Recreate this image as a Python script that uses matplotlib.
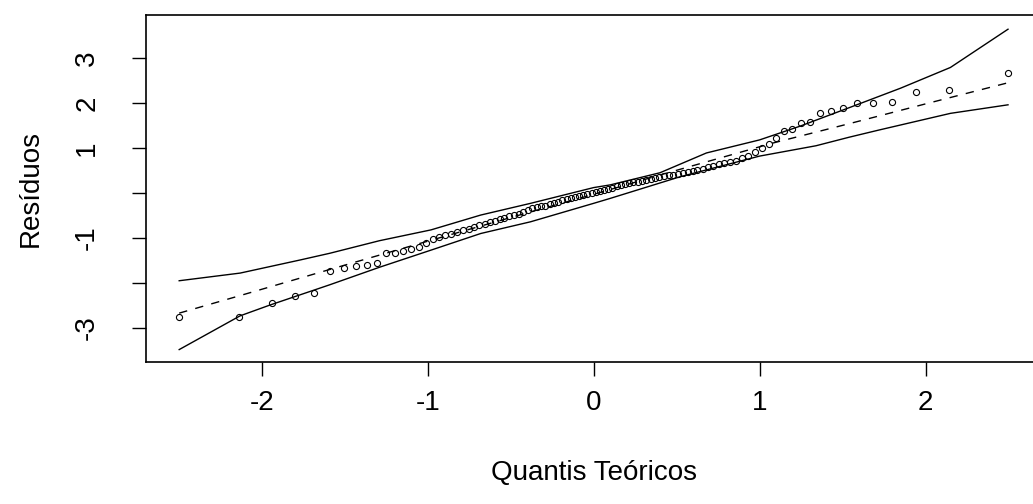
import matplotlib
matplotlib.use("Agg")
import matplotlib.pyplot as plt

# theoretical quantiles (n = 100)
quantis = [-2.497, -2.139, -1.940, -1.797, -1.684, -1.589, -1.505, -1.432, -1.366, -1.305,
           -1.248, -1.196, -1.146, -1.099, -1.054, -1.012, -0.970, -0.931, -0.894, -0.857,
           -0.821, -0.787, -0.753, -0.720, -0.688, -0.657, -0.626, -0.596, -0.566, -0.537,
           -0.508, -0.480, -0.452, -0.424, -0.397, -0.370, -0.344, -0.317, -0.291, -0.265,
           -0.239, -0.213, -0.188, -0.163, -0.138, -0.113, -0.088, -0.063, -0.038, -0.0125,
           0.0125, 0.038, 0.063, 0.088, 0.113, 0.138, 0.163, 0.188, 0.213, 0.239,
           0.265, 0.291, 0.317, 0.344, 0.370, 0.397, 0.424, 0.452, 0.480, 0.508,
           0.537, 0.566, 0.596, 0.626, 0.657, 0.688, 0.720, 0.753, 0.787, 0.821,
           0.857, 0.894, 0.931, 0.970, 1.012, 1.054, 1.099, 1.146, 1.196, 1.248,
           1.305, 1.366, 1.432, 1.505, 1.589, 1.684, 1.797, 1.940, 2.139, 2.497]

residuos = [-2.76, -2.75, -2.45, -2.30, -2.22, -1.73, -1.67, -1.63, -1.60, -1.55,
            -1.34, -1.33, -1.29, -1.24, -1.19, -1.12, -1.03, -0.98, -0.94, -0.91,
            -0.87, -0.83, -0.80, -0.76, -0.72, -0.69, -0.65, -0.62, -0.58, -0.56,
            -0.52, -0.49, -0.46, -0.43, -0.38, -0.34, -0.32, -0.30, -0.28, -0.25,
            -0.22, -0.19, -0.16, -0.13, -0.11, -0.09, -0.06, -0.04, -0.02, 0.00,
            0.02, 0.04, 0.06, 0.09, 0.12, 0.15, 0.17, 0.20, 0.22, 0.24,
            0.25, 0.27, 0.29, 0.31, 0.33, 0.35, 0.37, 0.39, 0.41, 0.43,
            0.45, 0.47, 0.49, 0.51, 0.54, 0.57, 0.61, 0.65, 0.66, 0.69,
            0.72, 0.78, 0.83, 0.92, 0.99, 1.09, 1.22, 1.38, 1.42, 1.56,
            1.58, 1.77, 1.83, 1.88, 1.99, 2.01, 2.03, 2.25, 2.29, 2.66]

# envelope lines
sup_x = [-2.497, -2.13, -1.77, -1.59, -1.29, -0.98, -0.68, -0.38, 0.0, 0.10, 0.40, 0.68, 1.00, 1.24, 1.55, 1.85, 2.15, 2.497]
sup_y = [-1.95, -1.78, -1.49, -1.34, -1.06, -0.82, -0.49, -0.23, 0.12, 0.18, 0.45, 0.89, 1.18, 1.48, 1.91, 2.33, 2.79, 3.64]

inf_x = [-2.497, -2.13, -1.95, -1.59, -1.29, -0.98, -0.68, -0.38, 0.0, 0.10, 0.52, 1.0, 1.34, 1.54, 1.72, 2.15, 2.497]
inf_y = [-3.48, -2.73, -2.49, -2.04, -1.65, -1.27, -0.90, -0.64, -0.23, -0.12, 0.36, 0.82, 1.05, 1.24, 1.40, 1.77, 1.96]

med_x = [-2.497, -2.13, -1.59, -0.98, -0.38, 0.0, 0.40, 1.08, 1.55, 2.01, 2.497]
med_y = [-2.67, -2.28, -1.70, -1.05, -0.42, -0.03, 0.40, 1.11, 1.55, 1.99, 2.45]

plt.rcParams['font.family'] = ['Liberation Sans', 'DejaVu Sans']

fig = plt.figure(figsize=(10.33, 5.04), dpi=100)
ax = fig.add_axes([146 / 1033, 142 / 504, 895.2 / 1033, 347 / 504])

ax.plot(quantis, residuos, linestyle="none", marker="o", markersize=4.4,
        markerfacecolor="none", markeredgecolor="black", markeredgewidth=0.8)
ax.plot(sup_x, sup_y, color="black", lw=1.0)
ax.plot(inf_x, inf_y, color="black", lw=1.0)
ax.plot(med_x, med_y, color="black", lw=1.0, dashes=(6, 6))

ax.set_xlim(-2.697, 2.697)
ax.set_ylim(-3.756, 3.956)
ax.set_xticks([-2, -1, 0, 1, 2])
ax.set_xticklabels(["-2", "-1", "0", "1", "2"])
ax.set_yticks([-3, -2, -1, 0, 1, 2, 3])
ax.set_yticklabels(["-3", "", "-1", "", "1", "2", "3"], rotation=90, va="center")

ax.tick_params(axis="both", direction="out", length=10, width=1.0, labelsize=20, color="black")
ax.tick_params(axis="x", pad=10)
ax.tick_params(axis="y", pad=23)

for s in ["left", "bottom", "top", "right"]:
    ax.spines[s].set_linewidth(1.2)

ax.set_xlabel("Quantis Teóricos", fontsize=20, labelpad=32)
ax.set_ylabel("Resíduos", fontsize=20, labelpad=22)

fig.savefig("out.png", dpi=100)
